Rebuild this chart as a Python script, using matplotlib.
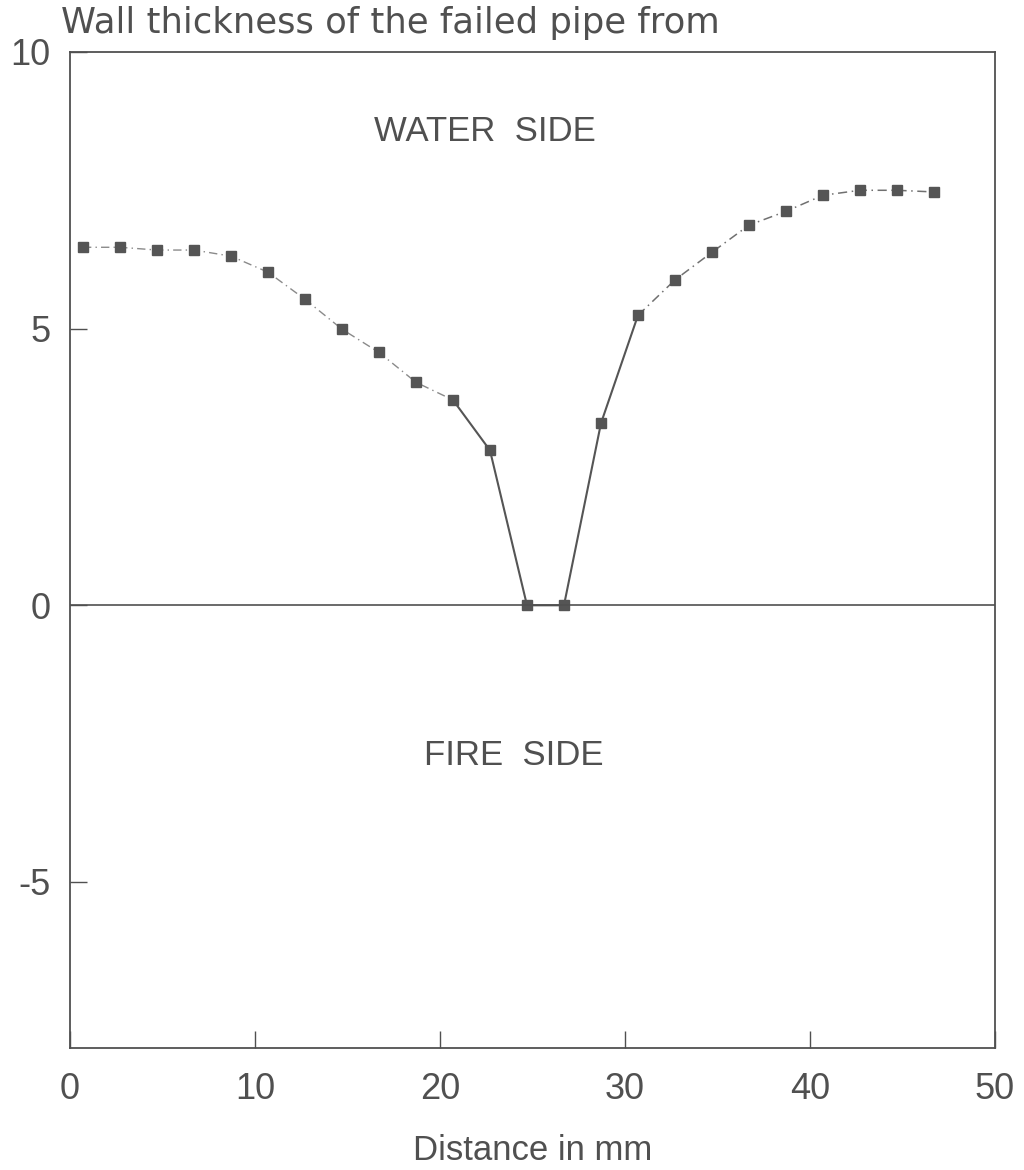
import numpy as np
import matplotlib.pyplot as plt

plt.rcParams['font.family'] = ['Liberation Sans', 'DejaVu Sans']

# distance along the pipe (mm) and wall thickness
dist = [0.7, 2.7, 4.7, 6.7, 8.7, 10.7, 12.7, 14.7, 16.7, 18.7, 20.7, 22.7,
        24.7, 26.7, 28.7, 30.7, 32.7, 34.7, 36.7, 38.7, 40.7, 42.7, 44.7, 46.7]
thick = [6.47, 6.47, 6.42, 6.42, 6.31, 6.02, 5.53, 4.99, 4.57, 4.03, 3.71, 2.80,
         0.0, 0.0, 3.29, 5.24, 5.88, 6.38, 6.87, 7.12, 7.41, 7.50, 7.50, 7.47]

# the steep part around the failure is drawn solid, the rest dash-dot
solid_from, solid_to = 10, 15

ink = '#505050'

fig = plt.figure(figsize=(10.24, 11.70), dpi=100)
ax = fig.add_axes([0.0684, 0.1043, 0.9033, 0.8513])

x = np.array(dist)
y = np.array(thick)

ax.plot(x[:solid_from + 1], y[:solid_from + 1], color='#8a8a8a', lw=1.0,
        linestyle=(0, (6, 3, 1, 3)))
ax.plot(x[solid_from:solid_to + 1], y[solid_from:solid_to + 1],
        color='#555555', lw=1.5)
ax.plot(x[solid_to:], y[solid_to:], color='#707070', lw=1.1,
        linestyle=(0, (6, 3, 1, 3)))
ax.plot(x, y, linestyle='none', marker='s', ms=7, color='#555555')

ax.axhline(0, color=ink, lw=1.2)

ax.text(22.4, 8.57, 'WATER  SIDE', ha='center', va='center',
        fontsize=25, color=ink)
ax.text(24.0, -2.71, 'FIRE  SIDE', ha='center', va='center',
        fontsize=25, color=ink)

ax.set_xlim(0, 50)
ax.set_ylim(-8, 10)
ax.set_xticks([0, 10, 20, 30, 40, 50])
ax.set_yticks([-5, 0, 5, 10])
ax.set_yticklabels(['-5', '0', '5', '10'])
ax.tick_params(direction='in', length=12, width=1, colors=ink,
               labelsize=26)
ax.tick_params(axis='y', pad=14)
ax.tick_params(axis='x', pad=17)
for s in ax.spines.values():
    s.set_color(ink)
    s.set_linewidth(1.3)

ax.set_xlabel('Distance in mm', fontsize=25, color=ink, labelpad=20)
fig.text(0.06, 0.980, 'Wall thickness of the failed pipe from',
         fontsize=25.5, color=ink, ha='left', va='center',
         family=['DejaVu Sans'])

fig.savefig('out.png', dpi=100)
